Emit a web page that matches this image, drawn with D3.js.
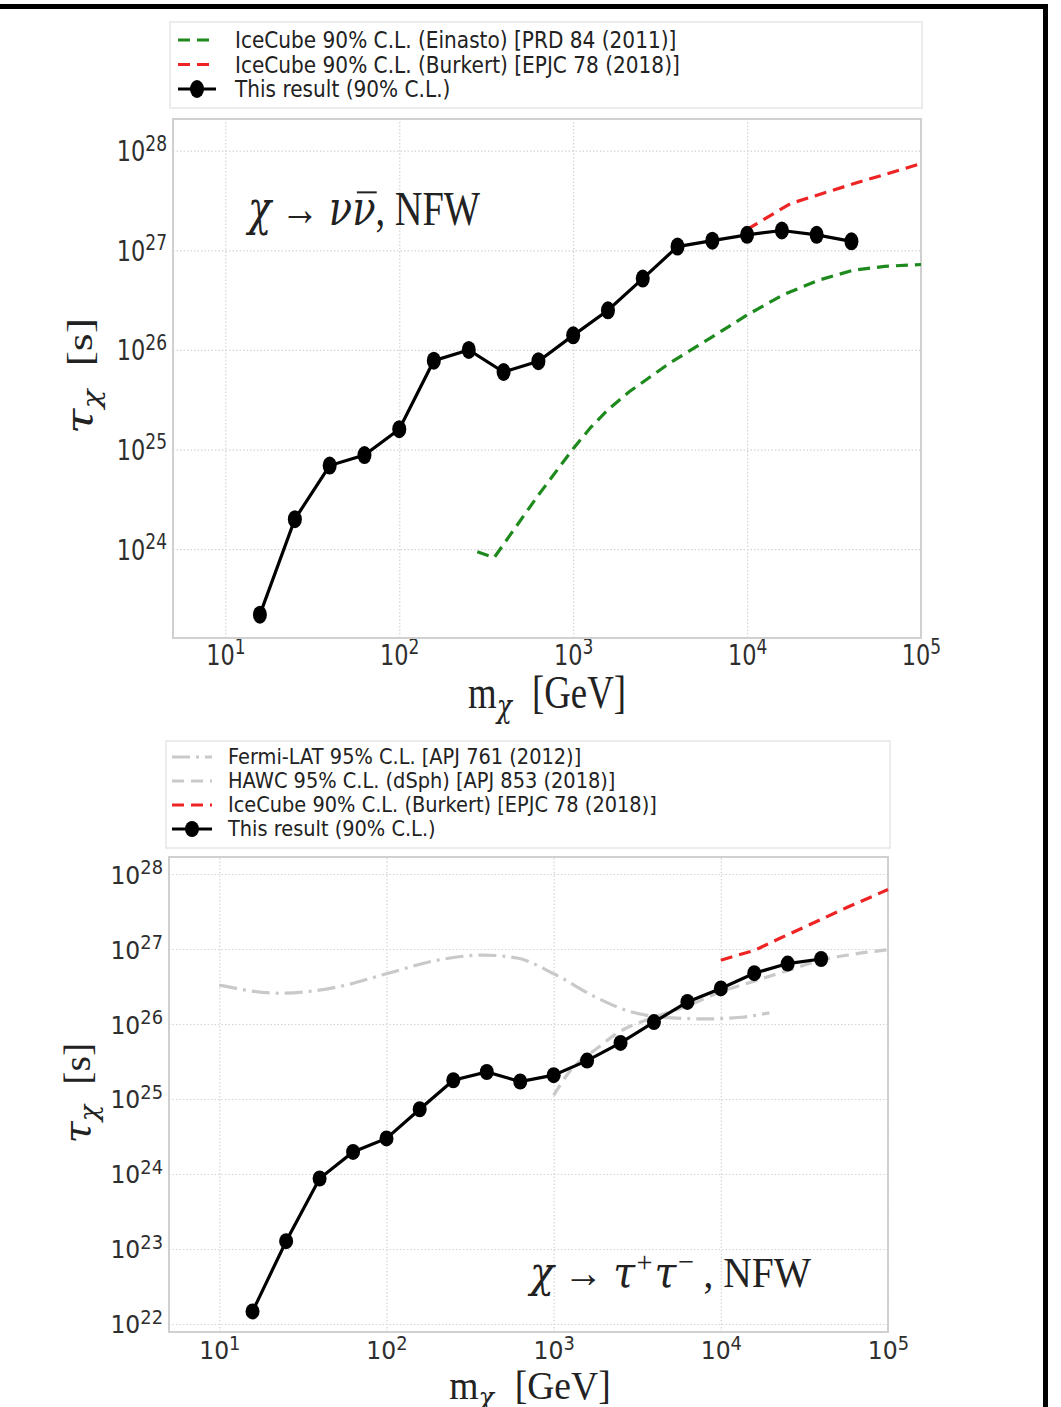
<!DOCTYPE html>
<html>
<head>
<meta charset="UTF-8">
<title>Dark matter lifetime limits</title>
<style>
    body { margin: 0; background: #fff; }
    svg { display: block; }
</style>
</head>
<body>
<svg></svg>
<script src="https://d3js.org/d3.v7.min.js"></script>
<script>

let width = 1061, height = 1407;
let svg = d3.select("svg").attr("width", width).attr("height", height);

// ---- data ----
// DM masses of the scan, GeV
let mass = [15.8, 25.1, 39.8, 63.1, 100, 158, 251, 398, 631, 1000, 1585, 2512, 3981, 6310, 10000, 15849, 25119, 39811];
// this result, chi -> nu nubar (s)
let tauNuNu = [2.2e23, 2.0e24, 6.9e24, 8.8e24, 1.6e25, 7.8e25, 1.0e26, 6.0e25, 7.7e25, 1.4e26, 2.5e26, 5.2e26, 1.09e27, 1.25e27, 1.43e27, 1.58e27, 1.43e27, 1.23e27];
// this result, chi -> tau+ tau- (s)
let tauTauTau = [1.47e22, 1.27e23, 8.7e23, 1.97e24, 2.98e24, 7.3e24, 1.78e25, 2.29e25, 1.71e25, 2.08e25, 3.25e25, 5.6e25, 1.06e26, 1.97e26, 2.98e26, 4.76e26, 6.4e26, 7.36e26];

// IceCube Einasto (nu nubar)
let einastoMass = [281, 351, 624, 1000, 1259, 1585, 2100, 3600, 6170, 10000, 16000, 25700, 40700, 61700, 100000];
let einastoTau = [9.4e23, 8.2e23, 3.4e24, 1.02e25, 1.66e25, 2.51e25, 3.8e25, 7.4e25, 1.32e26, 2.24e26, 3.55e26, 5.0e26, 6.3e26, 6.9e26, 7.2e26];
// IceCube Burkert (nu nubar)
let burkertNuMass = [10000, 17800, 40000, 100000];
let burkertNuTau = [1.62e27, 2.95e27, 4.6e27, 7.4e27];
// IceCube Burkert (tau tau)
let burkertTauMass = [10000, 16100, 22400, 36000, 57500, 100000];
let burkertTauTau = [7.1e26, 9.7e26, 1.38e27, 2.24e27, 3.63e27, 6.2e27];
// Fermi-LAT
let fermiMass = [10, 23, 55, 100, 209, 380, 603, 1000, 1780, 2820, 4470, 8130, 13200, 19500];
let fermiTau = [3.3e26, 2.57e26, 3.24e26, 4.68e26, 7.2e26, 8.3e26, 7.6e26, 4.68e26, 2.29e26, 1.48e26, 1.23e26, 1.17e26, 1.23e26, 1.41e26];
// HAWC dSph
let hawcMass = [1000, 1260, 1780, 2480, 3980, 6310, 10000, 15800, 25700, 40700, 61700, 100000];
let hawcTau = [1.12e25, 2.4e25, 4.57e25, 7.9e25, 1.23e26, 1.74e26, 2.69e26, 3.72e26, 5.25e26, 7.2e26, 8.5e26, 9.8e26];

let xTicks = [1e1, 1e2, 1e3, 1e4, 1e5];
let yTicksTop = [1e24, 1e25, 1e26, 1e27, 1e28];
let yTicksBottom = [1e22, 1e23, 1e24, 1e25, 1e26, 1e27, 1e28];

// ---- styles ----
let gridColor = "#d4d4d4", frameColor = "#d0d0d0", tickColor = "#2e2e2e";
let green = "#1e8a1e", red = "#ee2424", gray = "#c9c9c9";
let sans = "'DejaVu Sans', sans-serif", serif = "'Liberation Serif', 'DejaVu Serif', serif";
let greek = "'DejaVu Serif', serif";

// text squeezed horizontally (figure was stretched vertically)
function squeezed(g, x, y, sx, rot) {
    return g.append("text")
        .attr("transform", "translate(" + x + "," + y + ") scale(" + sx + ",1)" + (rot ? " rotate(" + rot + ")" : ""));
}

function power(t, v) {
    t.append("tspan").text("10");
    t.append("tspan").attr("dy", "-0.5em").attr("font-size", "0.76em").text(Math.round(Math.log10(v)));
}

function gr(t, s) {
    return t.append("tspan").attr("font-family", greek).attr("font-style", "italic").text(s);
}

function panel(cfg) {
    let x = d3.scaleLog().domain([5, 1e5]).range([cfg.left, cfg.right]);
    let y = d3.scaleLog().domain(cfg.yDomain).range([cfg.bottom, cfg.top]);
    let g = svg.append("g");
    let h = cfg.bottom - cfg.top, w = cfg.right - cfg.left;

    g.append("rect").attr("x", cfg.left).attr("y", cfg.top).attr("width", w).attr("height", h)
        .attr("fill", "#fff");

    // grid from the axes
    let xa = g.append("g").attr("transform", "translate(0," + cfg.bottom + ")")
        .call(d3.axisBottom(x).tickValues(xTicks).tickSize(-h).tickFormat(""));
    let ya = g.append("g").attr("transform", "translate(" + cfg.left + ",0)")
        .call(d3.axisLeft(y).tickValues(cfg.yTicks).tickSize(-w).tickFormat(""));
    [xa, ya].forEach(a => {
        a.select(".domain").remove();
        a.selectAll(".tick text").remove();
        a.selectAll(".tick line").attr("stroke", gridColor).attr("stroke-width", 1.2).attr("stroke-dasharray", "1.5,2");
    });
    xa.selectAll(".tick").each(function(d) {
        let t = squeezed(d3.select(this), 0, 27, cfg.sx)
            .attr("text-anchor", "middle").attr("fill", tickColor)
            .attr("font-family", sans).attr("font-size", cfg.tickSize);
        power(t, d);
    });
    ya.selectAll(".tick").each(function(d) {
        let t = squeezed(d3.select(this), -6, cfg.tickDy, cfg.sx)
            .attr("text-anchor", "end").attr("fill", tickColor)
            .attr("font-family", sans).attr("font-size", cfg.tickSize);
        power(t, d);
    });

    g.append("rect").attr("x", cfg.left).attr("y", cfg.top).attr("width", w).attr("height", h)
        .attr("fill", "none").attr("stroke", frameColor).attr("stroke-width", 2);

    let line = d3.line().x(d => x(d[0])).y(d => y(d[1]));
    let plot = g.append("g");
    cfg.curves.forEach(c => {
        plot.append("path")
            .attr("d", line.curve(c.smooth ? d3.curveMonotoneX : d3.curveLinear)(d3.zip(c.m, c.t)))
            .attr("fill", "none").attr("stroke", c.color).attr("stroke-width", 3.2)
            .attr("stroke-dasharray", c.dash);
    });
    let res = d3.zip(mass, cfg.result);
    plot.append("path").attr("d", line.curve(d3.curveLinear)(res))
        .attr("fill", "none").attr("stroke", "#000").attr("stroke-width", 3.2);
    plot.selectAll("ellipse").data(res).enter().append("ellipse")
        .attr("cx", d => x(d[0])).attr("cy", d => y(d[1]))
        .attr("rx", 7).attr("ry", cfg.mry).attr("fill", "#000");

    // legend
    let lg = svg.append("g");
    lg.append("rect").attr("x", cfg.legend.x).attr("y", cfg.legend.y).attr("width", cfg.legend.w).attr("height", cfg.legend.h)
        .attr("fill", "#fff").attr("stroke", "#e6e6e6").attr("stroke-width", 1.5);
    let entries = cfg.curves.map(c => c).concat([{label: "This result (90% C.L.)", color: "#000", dash: null, marker: true}]);
    entries.forEach((c, i) => {
        let yy = cfg.legend.row0 + i * cfg.legend.dy;
        lg.append("line").attr("x1", cfg.legend.hx0).attr("x2", cfg.legend.hx1).attr("y1", yy).attr("y2", yy)
            .attr("stroke", c.color).attr("stroke-width", 3.2).attr("stroke-dasharray", c.dash);
        if (c.marker) {
            lg.append("ellipse").attr("cx", (cfg.legend.hx0 + cfg.legend.hx1) / 2).attr("cy", yy)
                .attr("rx", 7).attr("ry", cfg.mry).attr("fill", "#000");
        }
        squeezed(lg, cfg.legend.tx, yy, cfg.legend.sx)
            .attr("dominant-baseline", "central").attr("fill", "#222")
            .attr("font-family", sans).attr("font-size", cfg.legend.fs).text(c.label);
    });

    // axis labels
    let xl = squeezed(g, cfg.xlab[0], cfg.xlab[1], cfg.sx)
        .attr("text-anchor", "middle").attr("font-family", serif).attr("font-size", cfg.labSize).attr("fill", "#222");
    xl.append("tspan").text("m");
    gr(xl, "χ").attr("font-size", "0.68em").attr("dy", "0.3em");
    xl.append("tspan").attr("dy", "-0.2em").attr("dx", "0.55em").text("[GeV]");

    let yl = squeezed(g, cfg.ylab[0], cfg.ylab[1], cfg.sx, -90)
        .attr("text-anchor", "middle").attr("font-family", serif).attr("font-size", cfg.labSize).attr("fill", "#222");
    gr(yl, "τ");
    gr(yl, "χ").attr("font-size", "0.68em").attr("dy", "0.3em");
    yl.append("tspan").attr("dy", "-0.2em").attr("dx", "0.5em").text("[s]");

    let ng = g.append("g").attr("transform", "translate(" + cfg.note.x + "," + cfg.note.y + ") scale(" + cfg.sx + ",1)");
    let an = ng.append("text").attr("font-family", serif).attr("font-size", cfg.note.fs).attr("fill", "#222");
    cfg.note.parts(an);
    if (cfg.note.bar != null) {
        let e = an.node().getExtentOfChar(cfg.note.bar);
        ng.append("line")
            .attr("x1", e.x + e.width * 0.2).attr("x2", e.x + e.width * 1.05)
            .attr("y1", -cfg.note.fs * 0.68).attr("y2", -cfg.note.fs * 0.68)
            .attr("stroke", "#222").attr("stroke-width", 2);
    }
}

panel({
    left: 173, right: 921, top: 119, bottom: 638,
    yDomain: [Math.pow(10, 23.108), Math.pow(10, 28.318)], yTicks: yTicksTop,
    sx: 0.8, tickSize: 28, tickDy: 10, mry: 9, labSize: 46,
    result: tauNuNu,
    curves: [
        {m: einastoMass, t: einastoTau, color: green, dash: "12,7", label: "IceCube 90% C.L. (Einasto) [PRD 84 (2011)]"},
        {m: burkertNuMass, t: burkertNuTau, color: red, dash: "12,7", label: "IceCube 90% C.L. (Burkert) [EPJC 78 (2018)]"}
    ],
    legend: {x: 170, y: 22, w: 752, h: 86, row0: 40, dy: 24.5, hx0: 178, hx1: 216, tx: 235, fs: 23.5, sx: 0.855},
    xlab: [547, 708], ylab: [92, 376],
    note: {x: 248, y: 225, fs: 48, bar: 5, parts: t => {
        gr(t, "χ");
        t.append("tspan").text(" → ");
        gr(t, "νν");
        t.append("tspan").text(", NFW");
    }}
});

panel({
    left: 169, right: 888, top: 857, bottom: 1332,
    yDomain: [Math.pow(10, 21.893), Math.pow(10, 28.227)], yTicks: yTicksBottom,
    sx: 0.94, tickSize: 25, tickDy: 9, mry: 8, labSize: 40,
    result: tauTauTau,
    curves: [
        {m: fermiMass, t: fermiTau, color: gray, dash: "18,6,3,6", smooth: true, label: "Fermi-LAT 95% C.L. [APJ 761 (2012)]"},
        {m: hawcMass, t: hawcTau, color: gray, dash: "12,7", smooth: true, label: "HAWC 95% C.L. (dSph) [APJ 853 (2018)]"},
        {m: burkertTauMass, t: burkertTauTau, color: red, dash: "12,7", label: "IceCube 90% C.L. (Burkert) [EPJC 78 (2018)]"}
    ],
    legend: {x: 166, y: 741, w: 724, h: 107, row0: 757, dy: 24, hx0: 172, hx1: 212, tx: 228, fs: 20.5, sx: 0.945},
    xlab: [530, 1399], ylab: [90, 1093],
    note: {x: 530, y: 1287, fs: 42, parts: t => {
        gr(t, "χ");
        t.append("tspan").text(" → ");
        gr(t, "τ");
        t.append("tspan").attr("font-size", "0.72em").attr("dy", "-0.5em").attr("dx", "0.05em").text("+");
        gr(t, "τ").attr("dy", "0.36em").attr("dx", "0.05em");
        t.append("tspan").attr("font-size", "0.72em").attr("dy", "-0.5em").attr("dx", "0.05em").text("−");
        t.append("tspan").attr("dy", "0.36em").text("  , NFW");
    }}
});

// outer black frame (top and right)
svg.append("rect").attr("x", 0).attr("y", 4).attr("width", 1048).attr("height", 5).attr("fill", "#000");
svg.append("rect").attr("x", 1043).attr("y", 4).attr("width", 5).attr("height", height - 4).attr("fill", "#000");

</script>
</body>
</html>
